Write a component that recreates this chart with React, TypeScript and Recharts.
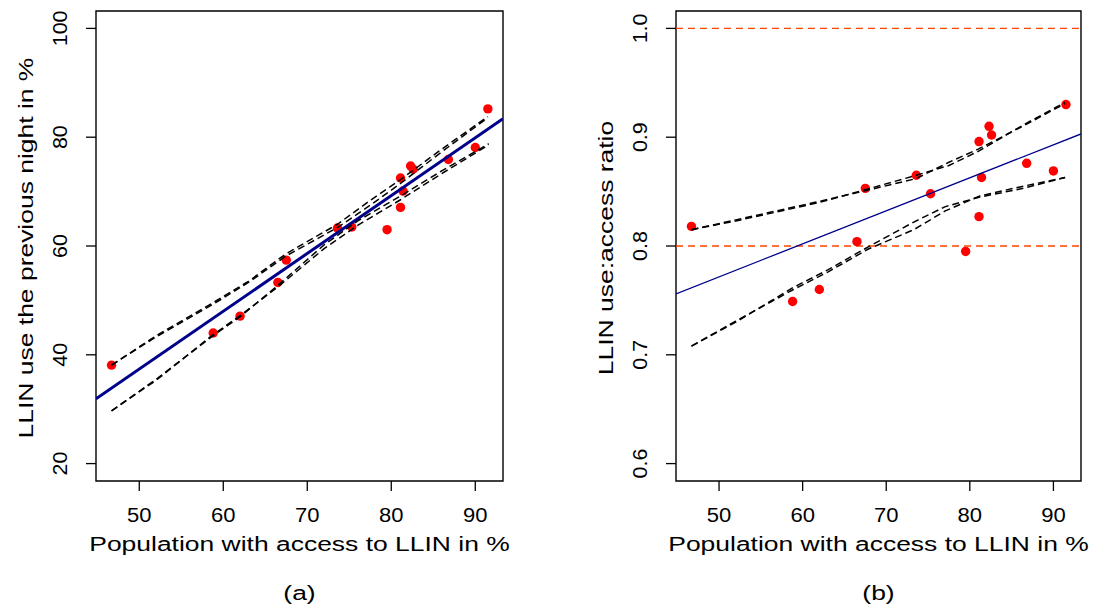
import { ScatterChart, Scatter, XAxis, YAxis, ReferenceArea, ReferenceLine } from 'recharts';

// survey values
const access = [46.7, 58.8, 62.0, 66.5, 67.5, 73.6, 75.3, 79.5, 81.1, 81.1, 81.4, 82.3, 82.6, 86.8, 90.0, 91.5];
const llinUse = [38.1, 44.0, 47.1, 53.3, 57.4, 63.3, 63.5, 63.0, 67.1, 72.5, 70.1, 74.7, 74.1, 75.9, 78.1, 85.2];
const useRatio = [0.818, 0.749, 0.760, 0.804, 0.853, 0.865, 0.848, 0.795, 0.827, 0.896, 0.863, 0.910, 0.902, 0.876, 0.869, 0.930];

const xTicks = [50, 60, 70, 80, 90];
const useTicks = [20, 40, 60, 80, 100];
const ratioTicks = [0.6, 0.7, 0.8, 0.9, 1.0];
const refRatios = [0.8, 1.0];

// fitted line, ends at the plot edges
const useFitX = [44.85, 93.3];
const useFitY = [31.9, 83.4];
const ratioFitY = [0.756, 0.903];

// dashed bands (x, y) for panel (a)
const useUpperX = [46.7, 52, 58.8, 63, 67.4, 73.6, 77.6, 81.1, 86, 91.5];
const useUpperA = [38.1, 43.5, 49.6, 53.5, 58.5, 64.0, 68.5, 72.2, 77.8, 83.8];
const useUpperB = [38.1, 43.3, 49.3, 53.3, 58.1, 63.4, 67.6, 71.5, 77.3, 83.6];
const useLowerX = [46.7, 52, 58.7, 62.1, 66.6, 72, 76, 81.1, 86, 91.6];
const useLowerA = [29.7, 35.3, 43.6, 47.3, 52.6, 59.5, 63.8, 68.5, 73.3, 78.6];
const useLowerB = [29.7, 35.5, 43.4, 47.1, 52.9, 60.2, 64.6, 69.2, 73.8, 78.8];

// dashed bands for panel (b)
const ratioUpperX = [46.7, 52, 57.9, 62, 67.6, 73.6, 77.5, 81, 86.8, 91.4];
const ratioUpperA = [0.815, 0.823, 0.833, 0.840, 0.852, 0.865, 0.874, 0.887, 0.913, 0.932];
const ratioUpperB = [0.815, 0.824, 0.834, 0.841, 0.851, 0.862, 0.877, 0.889, 0.912, 0.931];
const ratioLowerX = [46.7, 52, 58.9, 63, 67.8, 73.3, 77, 81.2, 86.4, 91.4];
const ratioLowerA = [0.708, 0.730, 0.762, 0.778, 0.799, 0.822, 0.836, 0.845, 0.853, 0.863];
const ratioLowerB = [0.708, 0.731, 0.760, 0.776, 0.797, 0.815, 0.832, 0.846, 0.855, 0.863];

const X_DOMAIN = [44.85, 93.3];
const USE_DOMAIN = [16.8, 103.2];
const RATIO_DOMAIN = [0.584, 1.016];

const FONT = '"Liberation Sans", Arial, Helvetica, sans-serif';

const zip = (xs: number[], ys: number[]) => xs.map((x, i) => ({ x, y: ys[i] }));

const noDot = () => <g />;

const dashed = { stroke: '#000', strokeWidth: 1.5, strokeDasharray: '7 4' };

const XTick = ({ x, payload }: any) => (
    <text
        transform={`translate(${x},522) scale(1.13,1)`}
        textAnchor='middle'
        fontSize={19.5}
        fontFamily={FONT}
        fill='#000'
    >
        {payload.value}
    </text>
);

const makeYTick = (left: number, digits: number) => ({ y, payload }: any) => (
    <text
        transform={`translate(${left - 29},${y}) rotate(-90) scale(1.1,1)`}
        textAnchor='middle'
        fontSize={19.5}
        fontFamily={FONT}
        fill='#000'
    >
        {Number(payload.value).toFixed(digits)}
    </text>
);

interface TitleProps {
    x: number;
    y: number;
    text: string;
    vertical?: boolean;
}

const Title = ({ x, y, text, vertical }: TitleProps) => (
    <text
        transform={`translate(${x},${y})${vertical ? ' rotate(-90)' : ''} scale(1.26,1)`}
        textAnchor='middle'
        fontSize={21}
        fontFamily={FONT}
        fill='#000'
    >
        {text}
    </text>
);

interface PanelProps {
    left: number;
    width: number;
    plotLeft: number;
    yDomain: number[];
    yTicks: number[];
    digits: number;
    yValues: number[];
    fitY: number[];
    fitWidth: number;
    bands: { x: number; y: number }[][];
    refs: number[];
    yTitle: string;
    tag: string;
}

const Panel = ({ left, width, plotLeft, yDomain, yTicks, digits, yValues, fitY, fitWidth, bands, refs, yTitle, tag }: PanelProps) => {
    const plotRight = width - (left === 0 ? 43 : 12);
    const mid = (plotLeft + plotRight) / 2;
    return (
        <div style={{ position: 'absolute', left, top: 0 }}>
            <ScatterChart width={width} height={609} margin={{ top: 11, right: width - plotRight, bottom: 118, left: plotLeft - 12 }}>
                <XAxis
                    type='number'
                    dataKey='x'
                    domain={X_DOMAIN}
                    allowDataOverflow
                    ticks={xTicks}
                    interval={0}
                    height={10}
                    axisLine={false}
                    tickSize={10}
                    tickLine={{ stroke: '#000', strokeWidth: 1.3 }}
                    tick={XTick}
                    label={{ content: () => (
                        <g>
                            <Title x={mid} y={551} text='Population with access to LLIN in %' />
                            <Title x={mid} y={600} text={tag} />
                        </g>
                    ) }}
                />
                <YAxis
                    type='number'
                    dataKey='y'
                    domain={yDomain}
                    allowDataOverflow
                    ticks={yTicks}
                    interval={0}
                    width={12}
                    axisLine={false}
                    tickSize={10}
                    tickLine={{ stroke: '#000', strokeWidth: 1.3 }}
                    tick={makeYTick(plotLeft, digits)}
                    label={{ content: () => <Title x={plotLeft - 63} y={248} text={yTitle} vertical /> }}
                />
                <ReferenceArea
                    x1={X_DOMAIN[0]}
                    x2={X_DOMAIN[1]}
                    y1={yDomain[0]}
                    y2={yDomain[1]}
                    ifOverflow='visible'
                    fill='none'
                    stroke='#000'
                    strokeWidth={1.4}
                />
                {refs.map((r) => (
                    <ReferenceLine key={r} y={r} stroke='#FF4500' strokeWidth={1.3} strokeDasharray='7 5' ifOverflow='visible' />
                ))}
                <Scatter data={zip(access, yValues)} fill='#FF0000' isAnimationActive={false} shape={(p: any) => (
                    <circle cx={p.cx} cy={p.cy} r={4.7} fill='#FF0000' />
                )} />
                <Scatter
                    data={zip(useFitX, fitY)}
                    line={{ stroke: '#00008B', strokeWidth: fitWidth }}
                    shape={noDot}
                    isAnimationActive={false}
                />
                {bands.map((b, i) => (
                    <Scatter key={i} data={b} line={dashed} shape={noDot} isAnimationActive={false} />
                ))}
            </ScatterChart>
        </div>
    );
};

const App = () => (
    <div style={{ position: 'absolute', left: 0, top: 0, width: 1093, height: 609, background: '#fff' }}>
        <Panel
            left={0}
            width={546}
            plotLeft={96}
            yDomain={USE_DOMAIN}
            yTicks={useTicks}
            digits={0}
            yValues={llinUse}
            fitY={useFitY}
            fitWidth={3}
            bands={[
                zip(useUpperX, useUpperA),
                zip(useUpperX, useUpperB),
                zip(useLowerX, useLowerA),
                zip(useLowerX, useLowerB),
            ]}
            refs={[]}
            yTitle='LLIN use the previous night in %'
            tag='(a)'
        />
        <Panel
            left={546}
            width={547}
            plotLeft={130}
            yDomain={RATIO_DOMAIN}
            yTicks={ratioTicks}
            digits={1}
            yValues={useRatio}
            fitY={ratioFitY}
            fitWidth={1.3}
            bands={[
                zip(ratioUpperX, ratioUpperA),
                zip(ratioUpperX, ratioUpperB),
                zip(ratioLowerX, ratioLowerA),
                zip(ratioLowerX, ratioLowerB),
            ]}
            refs={refRatios}
            yTitle='LLIN use:access ratio'
            tag='(b)'
        />
    </div>
);

export default App;
